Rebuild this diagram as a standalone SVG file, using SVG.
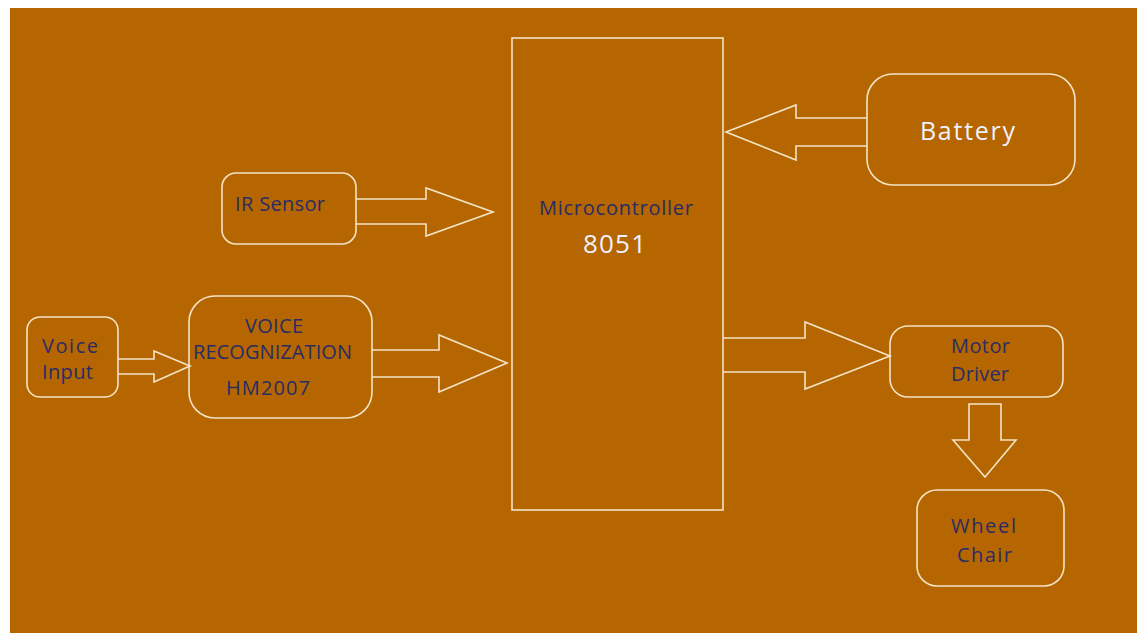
<svg xmlns="http://www.w3.org/2000/svg" width="1143" height="633" viewBox="0 0 1143 633">
  <style>
    .box { fill: none; stroke: #F3E4C6; stroke-width: 1.6; }
    .arrow { fill: none; stroke: #F3E4C6; stroke-width: 1.6; stroke-linejoin: miter; }
    text { font-family: "Open Sans", "Noto Sans", "Liberation Sans", sans-serif; }
    .dk { fill: #2a2c66; font-size: 20px; }
    .lt { fill: #eef0ff; }
  </style>
  <rect x="0" y="0" width="1143" height="633" fill="#ffffff"/>
  <rect x="10" y="8" width="1127" height="625" fill="#B56600"/>

  <g id="microcontroller">
    <rect class="box" x="512" y="38" width="211" height="472"/>
    <text class="dk" x="539" y="215" font-size="20" textLength="154" lengthAdjust="spacing">Microcontroller</text>
    <text class="lt" x="583" y="253" font-size="26" textLength="63" lengthAdjust="spacing">8051</text>
  </g>

  <g id="battery">
    <rect class="box" x="867" y="74" width="208" height="111" rx="26" ry="26"/>
    <text class="lt" x="920" y="140" font-size="25" textLength="95" lengthAdjust="spacing">Battery</text>
  </g>

  <g id="ir-sensor">
    <rect class="box" x="222" y="173" width="134" height="71" rx="14" ry="14"/>
    <text class="dk" x="235" y="211" textLength="90" lengthAdjust="spacing">IR Sensor</text>
  </g>

  <g id="voice-input">
    <rect class="box" x="27" y="317" width="91" height="80" rx="13" ry="13"/>
    <text class="dk" x="42" y="353" textLength="56" lengthAdjust="spacing">Voice</text>
    <text class="dk" x="42" y="379" textLength="51" lengthAdjust="spacing">Input</text>
  </g>

  <g id="voice-recognition">
    <rect class="box" x="189" y="296" width="183" height="122" rx="26" ry="26"/>
    <text class="dk" x="245" y="333" textLength="58" lengthAdjust="spacing">VOICE</text>
    <text class="dk" x="193" y="359" textLength="159" lengthAdjust="spacing">RECOGNIZATION</text>
    <text class="dk" x="226" y="395" textLength="84" lengthAdjust="spacing">HM2007</text>
  </g>

  <g id="motor-driver">
    <rect class="box" x="890" y="326" width="173" height="71" rx="18" ry="18"/>
    <text class="dk" x="951" y="353" textLength="59" lengthAdjust="spacing">Motor</text>
    <text class="dk" x="951" y="381" textLength="58" lengthAdjust="spacing">Driver</text>
  </g>

  <g id="wheel-chair">
    <rect class="box" x="917" y="490" width="147" height="96" rx="20" ry="20"/>
    <text class="dk" x="951" y="533" textLength="65" lengthAdjust="spacing">Wheel</text>
    <text class="dk" x="957" y="562" textLength="55" lengthAdjust="spacing">Chair</text>
  </g>

  <g id="connectors">
    <!-- block arrows between modules -->
    <path class="arrow" d="M867,118 H796 V105 L726,132 L796,160 V146 H867"/>
    <path class="arrow" d="M356,199 H426 V188 L493,212 L426,236 V224 H356"/>
    <path class="arrow" d="M118,359 H154 V351 L190,366 L154,382 V374 H118"/>
    <path class="arrow" d="M372,350 H439 V335 L507,363 L439,392 V377 H372"/>
    <path class="arrow" d="M723,338 H805 V322 L890,356 L805,389 V372 H723"/>
    <path class="arrow" d="M969,404 H1001 V440 H1016 L985,477 L953,440 H969 Z"/>
  </g>
</svg>
